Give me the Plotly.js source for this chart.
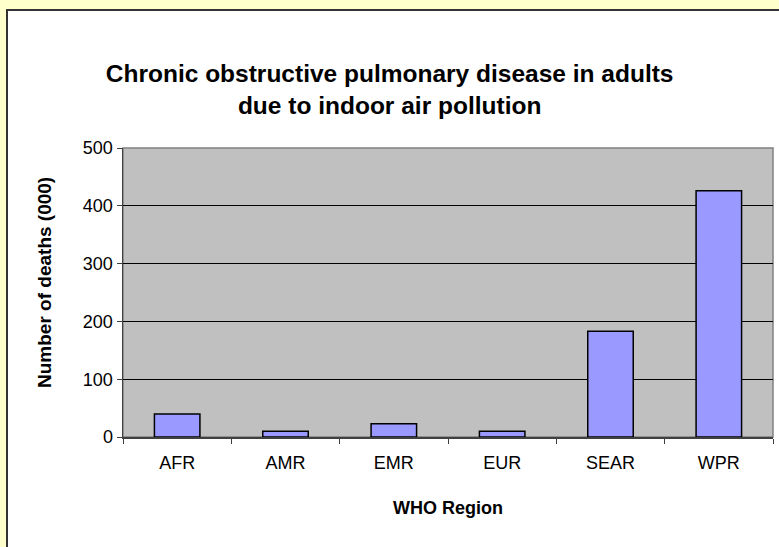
<!DOCTYPE html>
<html>
<head>
<meta charset="utf-8">
<script src="https://cdn.plot.ly/plotly-3.0.1.min.js"></script>
<style>
  html, body { margin: 0; padding: 0; background: #FFFFCC; width: 779px; height: 547px; overflow: hidden; }
  #frame { position: absolute; left: 6px; top: 9px; width: 773px; height: 538px;
           border-left: 2px solid #333333; border-top: 2px solid #333333; background: #ffffff; }
  #chart { width: 771px; height: 536px; }
</style>
</head>
<body>
<div id="frame"><div id="chart"></div></div>
<script>
const categories = ["AFR", "AMR", "EMR", "EUR", "SEAR", "WPR"];
const deaths = [40, 10, 23, 10, 183, 426];
const yTicks = [0, 100, 200, 300, 400, 500];

const font = "Liberation Sans, Arial, sans-serif";

const trace = {
  type: "bar",
  x: categories,
  y: deaths,
  marker: { color: "#9999FF", line: { color: "#000000", width: 1.5 } },
  hoverinfo: "x+y"
};

const layout = {
  width: 771,
  height: 536,
  margin: { l: 115, r: 6, t: 137, b: 110 },
  paper_bgcolor: "#ffffff",
  plot_bgcolor: "#C0C0C0",
  showlegend: false,
  bargap: 0.58,
  font: { family: font, size: 18, color: "#000000" },
  title: {
    text: "<b>Chronic obstructive pulmonary disease in adults<br>due to indoor air pollution</b>",
    font: { family: font, size: 24.5, color: "#000000" },
    xref: "container", x: 0.495, xanchor: "center",
    yref: "container", y: 0.868, yanchor: "top"
  },
  xaxis: {
    type: "category",
    showline: true, linecolor: "#404040", linewidth: 1.5,
    ticks: "outside", ticklen: 5, tickcolor: "#404040", tickson: "boundaries",
    ticklabelstandoff: 9,
    showgrid: false, zeroline: false,
    tickfont: { family: font, size: 18, color: "#000000" },
    title: { text: "<b>WHO Region</b>", font: { family: font, size: 18, color: "#000000" }, standoff: 29 },
    mirror: false
  },
  yaxis: {
    range: [0, 500],
    tickvals: yTicks,
    ticktext: yTicks.map(String),
    showline: true, linecolor: "#404040", linewidth: 1.5,
    ticks: "outside", ticklen: 5, tickcolor: "#404040",
    showgrid: true, gridcolor: "#000000", gridwidth: 1,
    zeroline: false,
    tickfont: { family: font, size: 18, color: "#000000" },
    title: { text: "" }
  },
  annotations: [
    { text: "<b>Number of deaths (000)</b>", textangle: -90, showarrow: false,
      xref: "paper", yref: "paper", x: -0.12, y: 0.533, xanchor: "center", yanchor: "middle",
      font: { family: font, size: 19, color: "#000000" } }
  ],
  shapes: [
    { type: "rect", xref: "paper", yref: "paper", x0: 0, x1: 1, y0: 0, y1: 1,
      line: { color: "#808080", width: 1.5 }, fillcolor: "rgba(0,0,0,0)", layer: "below" }
  ]
};

Plotly.newPlot("chart", [trace], layout, { displayModeBar: false, staticPlot: true });
</script>
</body>
</html>
